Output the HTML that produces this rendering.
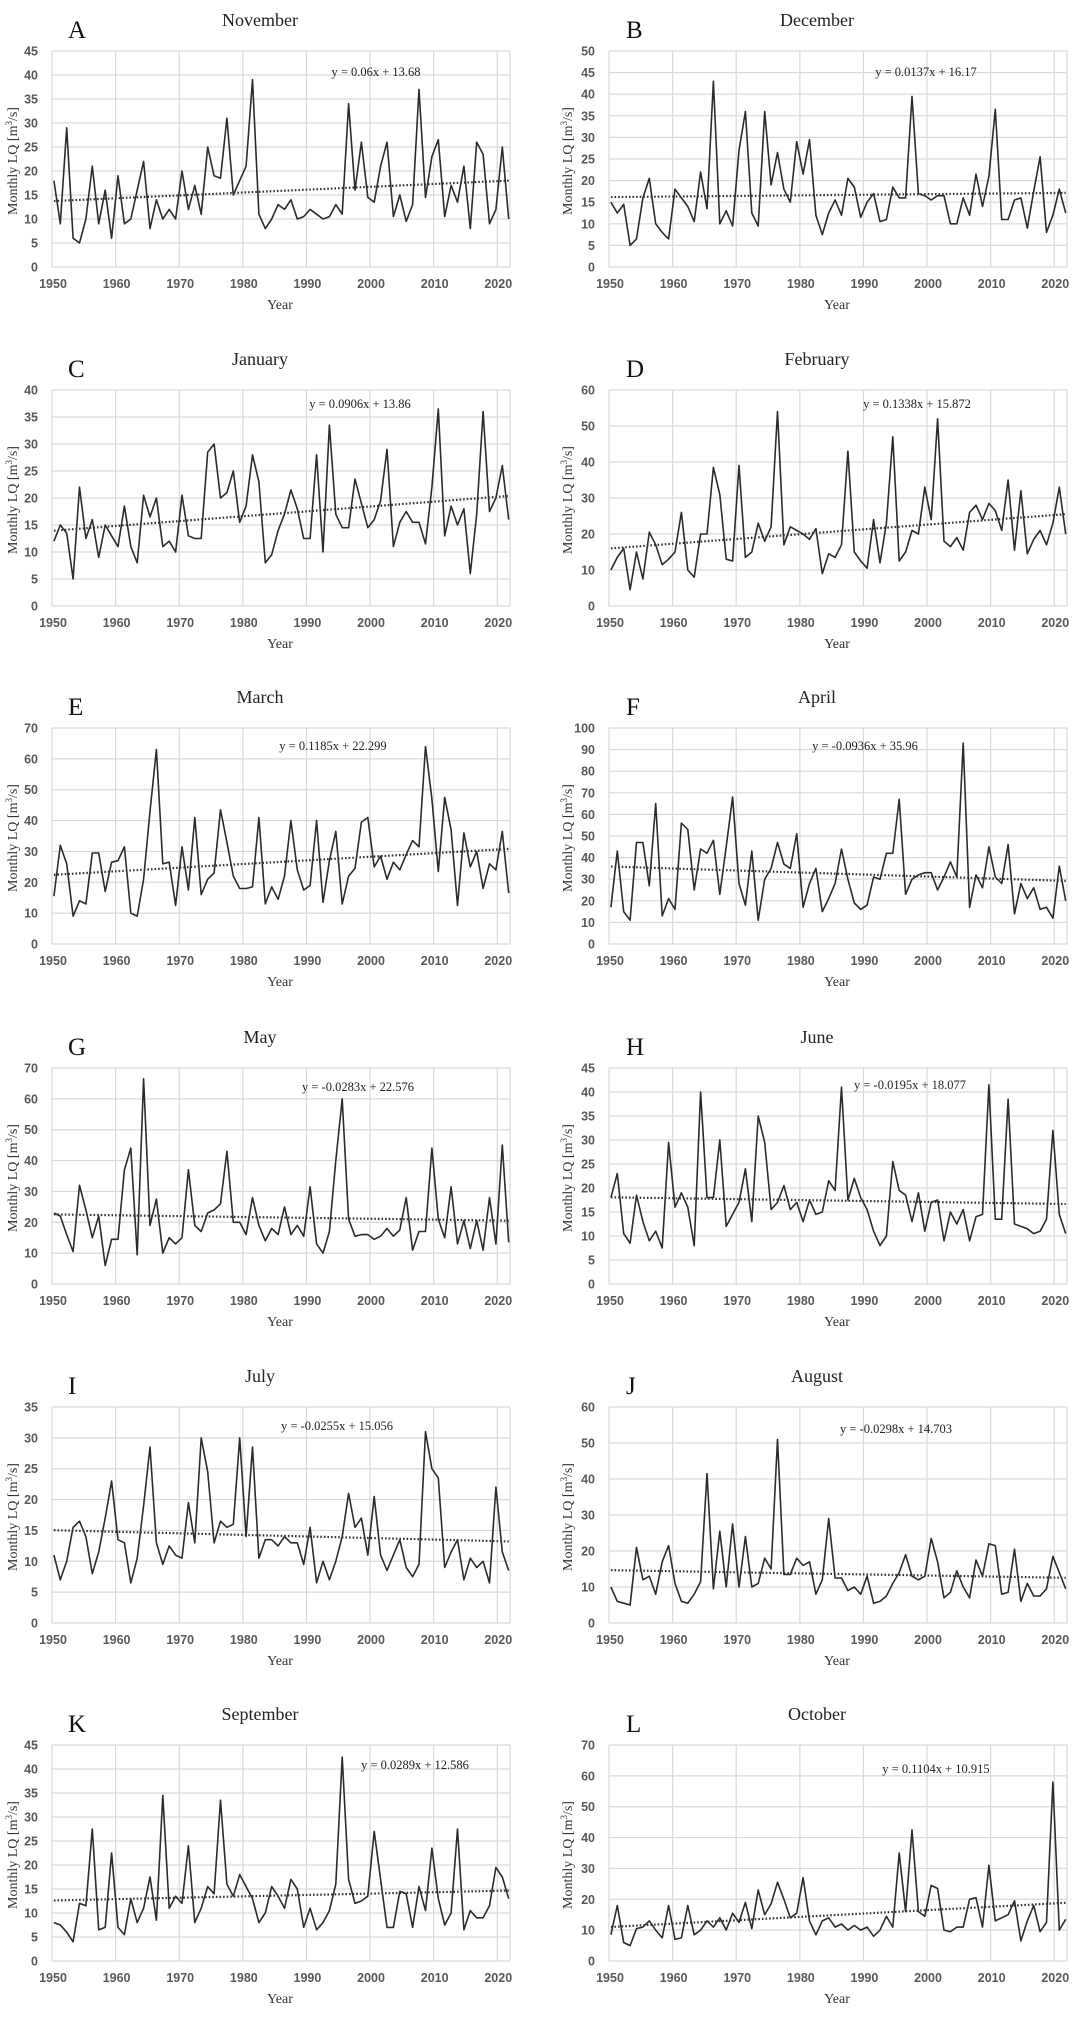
<!DOCTYPE html>
<html><head><meta charset="utf-8"><title>Monthly LQ charts</title>
<style>
html,body{margin:0;padding:0;background:#fff;}
svg{display:block;}
.tick{font-family:"Liberation Sans",sans-serif;font-size:12.5px;font-weight:bold;fill:#595959;}
.ttl{font-family:"Liberation Serif",serif;font-size:18px;fill:#222;}
.let{font-family:"Liberation Serif",serif;font-size:25px;fill:#111;}
.eq{font-family:"Liberation Serif",serif;font-size:12.5px;fill:#222;}
.ax{font-family:"Liberation Serif",serif;font-size:14px;fill:#333;}
</style></head>
<body>
<svg id="chart" width="1079" height="2017" xmlns="http://www.w3.org/2000/svg"></svg>
<script>
const months = ["November","December","January","February","March","April","May","June","July","August","September","October"];
const letters = ["A","B","C","D","E","F","G","H","I","J","K","L"];
const yMaxes = [45,50,40,60,70,100,70,45,35,60,45,70];
const yStepsArr = [5,5,5,10,10,10,10,5,5,10,5,10];
const slopes = [0.06,0.0137,0.0906,0.1338,0.1185,-0.0936,-0.0283,-0.0195,-0.0255,-0.0298,0.0289,0.1104];
const intercepts = [13.68,16.17,13.86,15.872,22.299,35.96,22.576,18.077,15.056,14.703,12.586,10.915];
const equations = ["y = 0.06x + 13.68","y = 0.0137x + 16.17","y = 0.0906x + 13.86","y = 0.1338x + 15.872","y = 0.1185x + 22.299","y = -0.0936x + 35.96","y = -0.0283x + 22.576","y = -0.0195x + 18.077","y = -0.0255x + 15.056","y = -0.0298x + 14.703","y = 0.0289x + 12.586","y = 0.1104x + 10.915"];
const xTicks = [1950,1960,1970,1980,1990,2000,2010,2020];

const novData = [18,9,29,6,5,10,21,9,16,6,19,9,10,16,22,8,14,10,12,10,20,12,17,11,25,19,18.5,31,15,18,21,39,11,8,10,13,12,14,10,10.5,12,11,10,10.5,13,11,34,16,26,14.5,13.5,21,26,10.5,15,9.5,13,37,14.5,23,26.5,10.5,17,13.5,21,8,26,23.5,9,12,25,10];
const decData = [15,12.5,14.5,5,6.5,16,20.5,10,8,6.5,18,16,14,10.5,22,13.5,43,10,13,9.5,27,36,12.5,9.5,36,19,26.5,18,15,29,21.5,29.5,12,7.5,12.5,15.5,12,20.5,18.5,11.5,15,17,10.5,11,18.5,16,16,39.5,17,16.5,15.5,16.5,16.5,10,10,16,12,21.5,14,21,36.5,11,11,15.5,16,9,17.5,25.5,8,12,18,12.5];
const janData = [12,15,13.5,5,22,12.5,16,9,15,13,11,18.5,11,8,20.5,16.5,20,11,12,10,20.5,13,12.5,12.5,28.5,30,20,21,25,15.5,18.5,28,23,8,9.5,14,17,21.5,18,12.5,12.5,28,10,33.5,17,14.5,14.5,23.5,19,14.5,16,19.5,29,11,15.5,17.5,15.5,15.5,11.5,22,36.5,13,18.5,15,18,6,17,36,17.5,20,26,16];
const febData = [10,13.5,16,4.5,15,7.5,20.5,17,11.5,13,15,26,10,8,20,20,38.5,31,13,12.5,39,13.5,15,23,18,22,54,17,22,21,20,18.5,21.5,9,14.5,13.5,17,43,15,12.5,10.5,24,12,23,47,12.5,15,21,20,33,24,52,18,16.5,19,15.5,26,28,24,28.5,26.5,21,35,15.5,32,14.5,18.5,21,17,23,33,20];
const marData = [15.5,32,26,9,14,13,29.5,29.5,17,26.5,27,31.5,10,9,21,43,63,26,26.5,12.5,31.5,17.5,41,16,21,23,43.5,33,22,18,18,18.5,41,13,18.5,14.5,22,40,24,17.5,19,40,13.5,27,36.5,13,22,24.5,39.5,41,25,28.5,21,26.5,24,29,33.5,31.5,64,47,23.5,47.5,37,12.5,36,25,30,18,26,24,36.5,16.5];
const aprData = [17,43,15,11,47,47,27,65,13,21,16,56,53,25,44,42,48,23,45,68,28,18,43,11,30,35,47,37,35,51,17,28,35,15,21,28,44,30,19,16,18,31,30,42,42,67,23,30,32,33,33,25,31,38,31,93,17,32,26,45,31,28,46,14,28,21,26,16,17,12,36,20];
const mayData = [23,22,16,10.5,32,24,15,22,6,14.5,14.5,37,44,9.5,66.5,19,27.5,10,15,13,15,37,19,17,23,24,26,43,20,20,16,28,19,14,18,16,25,16,19,15.5,31.5,13,10,17,40,60,21,15.5,16,16,14.5,15.5,18,15.5,17.5,28,11,17,17,44,21,15,31.5,13,20.5,11.5,20.5,11,28,13,45,13.5];
const junData = [18,23,10.5,8.5,18.5,13,9,11,7.5,29.5,16,19,16,8,40,18,18,30,12,14.5,17,24,13,35,29.5,15.5,17,20.5,15.5,17,13,17.5,14.5,15,21.5,19.5,41,17.5,22,18,15.5,11,8,10,25.5,19.5,18.5,13,19,11,17,17.5,9,15,12.5,15.5,9,14,14.5,41.5,13.5,13.5,38.5,12.5,12,11.5,10.5,11,13.5,32,14.5,10.5];
const julData = [11,7,10,15.5,16.5,14,8,11.5,17,23,13.5,13,6.5,10.5,19,28.5,13,9.5,12.5,11,10.5,19.5,13,30,24.5,13,16.5,15.5,16,30,14,28.5,10.5,13.5,13.5,12.5,14,13,13,9.5,15.5,6.5,10,7,10,14,21,15.5,17,11,20.5,11,8.5,11,13.5,9,7.5,9.5,31,25,23.5,9,11.5,13.5,7,10.5,9,10,6.5,22,11.5,8.5];
const augData = [10,6,5.5,5,21,12,13,8,17,21.5,11,6,5.5,8,11.5,41.5,9.5,25.5,10,27.5,10,24,10,11,18,15,51,13.5,13.5,18,16,17,8,12,29,12.5,12.5,9,10,8,13,5.5,6,7.5,11,14,19,13,12,13,23.5,17,7,8.5,14.5,10,7,17.5,13,22,21.5,8,8.5,20.5,6,11,7.5,7.5,9.5,18.5,14,9.5];
const sepData = [8,7.5,6,4,12,11.5,27.5,6.5,7,22.5,7,5.5,13,8,11,17.5,8.5,34.5,11,13.5,12,24,8,11,15.5,14,33.5,16,13.5,18,15.5,13,8,10,15.5,13.5,11,17,15,7,11,6.5,8,10.5,16,42.5,17,12,12.5,13.5,27,17,7,7,14.5,14,7,15.5,10.5,23.5,13,7.5,10,27.5,6.5,10.5,9,9,11.5,19.5,17.5,13];
const octData = [8.5,18,6,5,10.5,11,13,10,7.5,18,7,7.5,18,8.5,10,13,11,14,10,15.5,12.5,19,10.5,23,15,18.5,25.5,20,14,15.5,27,13,8.5,13,14,11,12,10,11.5,10,11,8,10,14.5,11,35,16,42.5,16,14.5,24.5,23.5,10,9.5,11,11,20,20.5,11,31,13,14,15,19.5,6.5,13,18,9.5,12.5,58,10,13.5];
const seriesList = [novData,decData,janData,febData,marData,aprData,mayData,junData,julData,augData,sepData,octData];

const NS = "http://www.w3.org/2000/svg";
const svg = document.getElementById("chart");
const rowTops = [51,390,728,1068,1407,1745];
const colLeft = [52,609];
const plotW = 458, plotH = 216;
const eqCenters = [[376,76],[926,76],[360,408],[917,408],[333,750],[865,750],[358,1091],[910,1089],[337,1430],[896,1433],[415,1769],[936,1773]];

function mk(tag, attrs, parent){
  const e = document.createElementNS(NS, tag);
  for (const k in attrs) e.setAttribute(k, attrs[k]);
  parent.appendChild(e);
  return e;
}

for (let p = 0; p < 12; p++) {
  const row = Math.floor(p/2), col = p%2;
  const L = colLeft[col], T = rowTops[row], B = T + plotH, R = L + plotW;
  const ymax = yMaxes[p], step = yStepsArr[p];
  const xs = yr => L + (yr - 1950) / 72 * plotW;
  const ys = v => B - v / ymax * plotH;
  const g = mk("g", {}, svg);
  
  

  // grid
  for (let v = 0; v <= ymax + 1e-9; v += step) {
    const gl = mk("line", {x1:L, x2:R, y1:ys(v), y2:ys(v), stroke:"#d9d9d9", "stroke-width":1.2}, g);
    
    
    const tl = mk("text", {x:L-14, y:ys(v)+4.5, "text-anchor":"end", class:"tick"}, g);
    tl.textContent = v;
    
    
  }
  for (const yr of xTicks) {
    const gl = mk("line", {x1:xs(yr), x2:xs(yr), y1:T, y2:B, stroke:"#d9d9d9", "stroke-width":1.2}, g);
    
    
    const tl = mk("text", {x:xs(yr)+1, y:B+21, "text-anchor":"middle", class:"tick"}, g);
    tl.textContent = yr;
    
    
  }
  const rl = mk("line", {x1:R, x2:R, y1:T, y2:B, stroke:"#d9d9d9", "stroke-width":1.2}, g);
  
  

  // series
  const d = seriesList[p], n = d.length;
  const yearOf = i => 1950.3 + i * (71.5 / (n - 1));
  let path = "";
  d.forEach((v, i) => { path += (i ? "L" : "M") + xs(yearOf(i)).toFixed(1) + "," + ys(v).toFixed(1); });
  const ln = mk("path", {d:path, fill:"none", stroke:"#2b2b2b", "stroke-width":1.6, "stroke-linejoin":"round"}, g);
  
  

  // trend
  const t0 = slopes[p] * 1 + intercepts[p], t1 = slopes[p] * n + intercepts[p];
  const tr = mk("line", {x1:xs(yearOf(0)), y1:ys(t0), x2:xs(yearOf(n-1)), y2:ys(t1), stroke:"#333", "stroke-width":2.2, "stroke-dasharray":"1.6 2"}, g);
  
  

  const eq = mk("text", {x:eqCenters[p][0], y:eqCenters[p][1], "text-anchor":"middle", class:"eq"}, g);
  eq.textContent = equations[p];
  
  

  const tt = mk("text", {x:col ? 817 : 260, y:T-25, "text-anchor":"middle", class:"ttl"}, g);
  tt.textContent = months[p];
  
  

  const lt = mk("text", {x:col ? 626 : 68, y:T-13, class:"let"}, g);
  lt.textContent = letters[p];
  
  

  const xt = mk("text", {x:L + 228, y:B + 42, "text-anchor":"middle", class:"ax"}, g);
  xt.textContent = "Year";
  
  

  const ax = col ? 572 : 17, ay = T + 110;
  const yt = mk("text", {x:ax, y:ay, "text-anchor":"middle", transform:"rotate(-90 " + ax + " " + ay + ")", class:"ax"}, g);
  yt.innerHTML = 'Monthly LQ [m<tspan baseline-shift="super" font-size="9">3</tspan>/s]';
  
  
}
</script>
</body></html>
